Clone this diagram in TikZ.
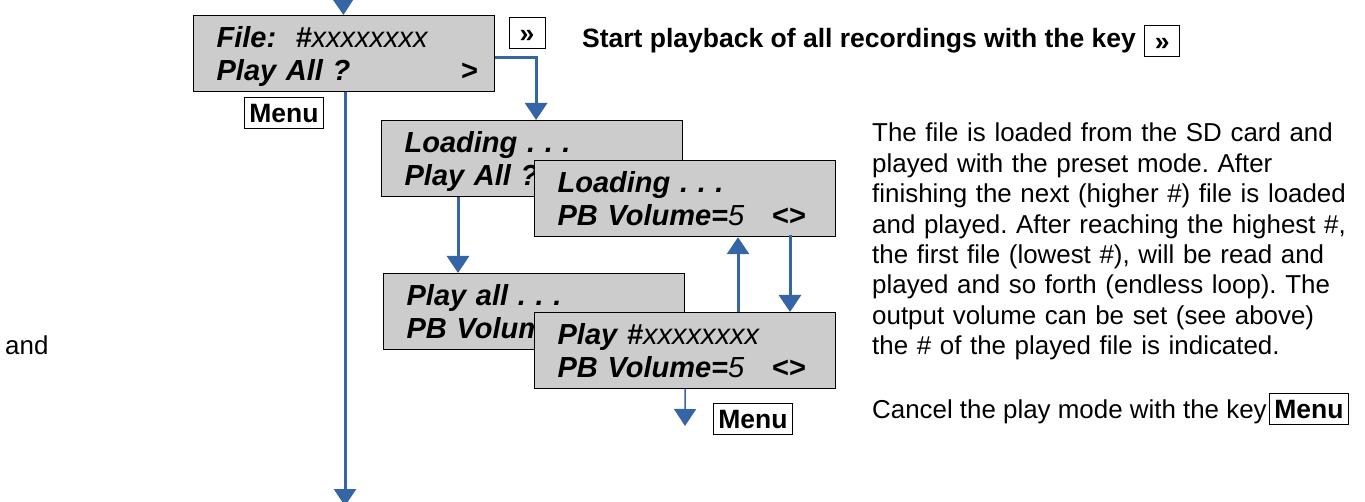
\documentclass[tikz,border=0pt]{standalone}
\usepackage{fontspec}
\setmainfont{Liberation Sans}
\usetikzlibrary{arrows.meta,positioning}
\definecolor{flowblue}{RGB}{54,101,166}
\definecolor{lcdgray}{RGB}{204,204,204}
\tikzset{lcd/.style={draw=black, line width=1.2pt, fill=lcdgray, anchor=north west, inner xsep=23pt, inner ysep=5pt, text width=255pt, align=left, font=\fontsize{29}{33}\selectfont\bfseries\itshape}}
\tikzset{key/.style={draw=black, line width=1pt, fill=white, inner xsep=5pt, inner ysep=0pt, minimum height=31pt, text height=19pt, text depth=0pt, font=\fontsize{26.5}{30}\selectfont\bfseries}}
\tikzstyle{flow}=[draw=flowblue, line width=3pt, -{Triangle[width=22pt,length=17pt]}]
\tikzstyle{flowthin}=[flow, line width=1.5pt]
\tikzstyle{txt}=[inner sep=0pt, font=\fontsize{25.9}{30.4}\selectfont]
\newcommand{\lcdlines}[2]{\rule{0pt}{27pt}#1\\#2\rule[-6pt]{0pt}{6pt}}
\newcommand{\md}[1]{{\mdseries #1}}
\frenchspacing

\begin{document}
\begin{tikzpicture}[x=1pt, y=-1pt]
\useasboundingbox (0,0) rectangle (1365,502);
\clip (0,0) rectangle (1365,502);
\node[lcd] (file) at (193,15) {\lcdlines{File:\ \ \#\md{xxxxxxxx}}{Play All ?\hfill>\hspace*{-6pt}}};
\node[key, minimum width=36pt] (keynext) at (527,33.5) {»};
\node[key] (keymenu) at (284,113.5) {Menu};
\node[lcd] (load1) at (381,120) {\lcdlines{Loading . . .}{Play All ?}};
\node[lcd] (loadvol) at (534,160) {\lcdlines{Loading . . .}{PB Volume=\md{5}\hfill<>\hspace*{7pt}}};
\node[lcd] (playall) at (383,273) {\lcdlines{Play all . . .}{PB Volum}};
\node[lcd] (play) at (534,312) {\lcdlines{Play \#\md{xxxxxxxx}}{PB Volume=\md{5}\hfill<>\hspace*{7pt}}};
\node[key] (keymenu2) at (753,418.5) {Menu};
\coordinate (in) at (343,-12);
\coordinate (out) at (345,506);
\coordinate (next) at (685,426);
\node[txt, font=\fontsize{26.5}{30}\selectfont\bfseries, anchor=base west] (title) at (582,48) {Start playback of all recordings with the key};
\node[key, minimum width=35pt, right=8pt of title] (titlekey) {»};
\node[txt, anchor=north west, text width=490pt, align=left] (info) at (872,123) {The file is loaded from the SD card and\\
played with the preset mode. After\\
finishing the next (higher \#) file is loaded\\
and played. After reaching the highest \#,\\
the first file (lowest \#), will be read and\\
played and so forth (endless loop). The\\
output volume can be set (see above)\\
the \# of the played file is indicated.};
\node[txt, anchor=base west] (cancel) at (872,418) {Cancel the play mode with the key};
\node[key] (cancelkey) at (1309,408.5) {Menu};
\node[txt, anchor=base west] (and) at (5,355) {and};
\draw[flow] (in) -- (file);
\draw[flow] (file.south -| out) -- (out);
\draw[flow] ([yshift=-4pt]file.east) -| ([xshift=4pt]load1.north);
\draw[flow] ([xshift=77pt]load1.south west) -- ([xshift=75pt]playall.north west);
\draw[flow] ([xshift=204pt]play.north west) -- ([xshift=204pt]loadvol.south west);
\draw[flow] ([xshift=256pt,yshift=2pt]loadvol.south west) -- ([xshift=256pt]play.north west);
\draw[flowthin] (play.south) -- (next);
\end{tikzpicture}
\end{document}
